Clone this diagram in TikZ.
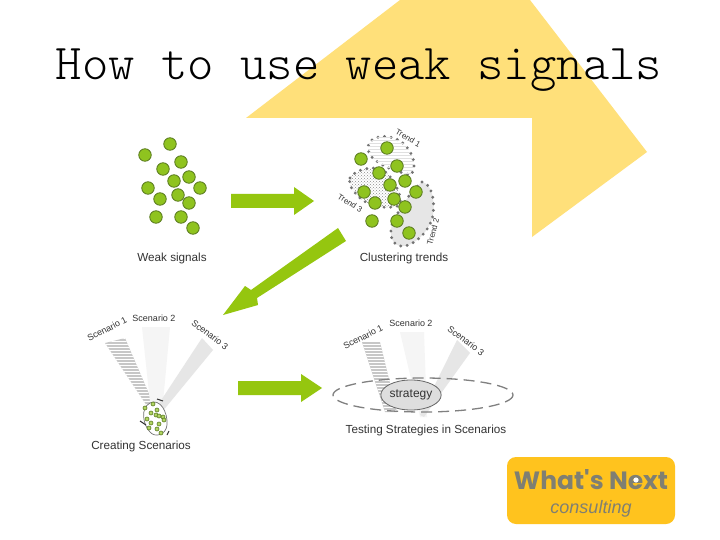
\documentclass[tikz,border=0pt]{standalone}
\usepackage{fontspec}
\setmainfont{Liberation Sans}
\newfontfamily\logofont{Poppins}
\newfontfamily\titlefont{Latin Modern Mono Light}
\usetikzlibrary{patterns,shapes.geometric}
\definecolor{slideyellow}{HTML}{FFE07A}
\definecolor{leaf}{HTML}{8FC31F}
\definecolor{leafdark}{HTML}{5A7A20}
\definecolor{arrowgreen}{HTML}{95C60F}
\definecolor{logoyellow}{HTML}{FFC31E}
\definecolor{logogrey}{HTML}{7F7F72}
\definecolor{bandgrey}{HTML}{E6E6E6}
\tikzset{
  sig/.style={circle,draw=leafdark,line width=0.8pt,fill=leaf,minimum size=12.5pt,inner sep=0pt},
  tiny/.style={circle,draw=leafdark,line width=0.6pt,fill=leaf!70!white,minimum size=4pt,inner sep=0pt},
  lab/.style={font=\fontsize{11.7pt}{13pt}\selectfont,text=black!80,inner sep=0pt},
  small/.style={font=\fontsize{9pt}{10pt}\selectfont,text=black!80,inner sep=0pt},
  mini/.style={font=\fontsize{8pt}{9pt}\selectfont,text=black!80,inner sep=0pt},
  bigarrow/.style={fill=arrowgreen,draw=none},
  dotline/.style={draw=black!55,line width=3.2pt,line cap=round,dash pattern=on 0pt off 6.6pt},
  lightband/.style={fill=black!4},
  greyband/.style={fill=bandgrey}
}
\begin{document}
\begin{tikzpicture}[x=1pt,y=-1pt]
\useasboundingbox (0,0) rectangle (720,540);
\fill[white] (0,0) rectangle (720,540);
\fill[slideyellow] (400,0) -- (530,0) -- (647,152) -- (532,237) -- (532,118) -- (246,118) -- cycle;
\fill[white] (68,118) rectangle (532,465);
\node[inner sep=0pt,anchor=base,font=\titlefont\fontsize{50.2pt}{51pt}\selectfont,text=black] (title) at (359,80) {How to use weak signals};

% weak signals
\foreach \n/\x/\y in {a/170/144,b/145/155,c/181/162,d/163/169,e/189/177,f/174/181,g/148/188,h/200/188,i/178/195,j/160/199,k/189/203,l/156/217,m/181/217,o/193/228}
  \node[sig] (w\n) at (\x,\y) {};
\node[lab] (weak) at (172,258) {Weak signals};

% arrows
\fill[bigarrow] (231,194) -- (294,194) -- (294,187) -- (314,201) -- (294,215) -- (294,208) -- (231,208) -- cycle;
\fill[bigarrow] (238,381) -- (301,381) -- (301,374) -- (322,388) -- (301,402) -- (301,395) -- (238,395) -- cycle;
\fill[bigarrow] (338,228) -- (346,241) -- (257,298) -- (258,305) -- (223,315) -- (245,286) -- (251,290) -- cycle;

% clusters
\def\blobone{(372,140) .. controls (380,134) and (396,136) .. (404,144) .. controls (412,152) and (418,165) .. (411,175) .. controls (398,172) and (385,168) .. (375,160) .. controls (368,155) and (365,146) .. (372,140) -- cycle}
\def\blobthree{(350,178) .. controls (354,170) and (376,163) .. (387,173) .. controls (395,182) and (405,200) .. (398,206) .. controls (385,210) and (365,205) .. (357,195) .. controls (352,190) and (348,184) .. (350,178) -- cycle}
\filldraw[dotline,fill=white] \blobone;
\path[pattern=horizontal lines,pattern color=black!12] \blobone;
\filldraw[dotline,fill=bandgrey] (422,182) .. controls (432,184) and (435,200) .. (433,215)
  .. controls (430,232) and (412,248) .. (400,246) .. controls (390,244) and (388,230) .. (395,218)
  .. controls (402,205) and (412,190) .. (422,182) -- cycle;
\filldraw[dotline,fill=white] \blobthree;
\path[pattern=crosshatch dots,pattern color=black!45] \blobthree;
\foreach \n/\x/\y in {a/387/148,b/361/159,c/397/166,d/379/173,e/405/181,f/390/185,g/364/192,h/416/192,i/394/199,j/375/203,k/405/207,l/372/221,m/397/221,o/409/233}
  \node[sig] (c\n) at (\x,\y) {};
\node[mini,rotate=-30] (t1) at (408,138) {Trend 1};
\node[mini,rotate=-32] (t3) at (350,203) {Trend 3};
\node[mini,rotate=75] (t2) at (433,232) {Trend 2};
\node[lab] (clust) at (404,258) {Clustering trends};

% creating scenarios
\fill[black!22] (105,343) -- (125,338) -- (153,403) -- (147,406) -- cycle;
\path[pattern=horizontal lines,pattern color=white] (105,343) -- (125,338) -- (153,403) -- (147,406) -- cycle;
\fill[lightband] (142,327) -- (170,327) -- (163,402) -- (150,402) -- cycle;
\fill[greyband] (202,338) -- (213,350) -- (162,412) -- (156,408) -- cycle;
\node[small] (s2a) at (154,318) {Scenario 2};
\node[small,rotate=27] (s1a) at (107,329) {Scenario 1};
\node[small,rotate=-37] (s3a) at (210,335) {Scenario 3};
\filldraw[draw=black!55,fill=white,line width=0.7pt] (150,403) .. controls (160,398) and (168,412) .. (167,425) .. controls (166,435) and (155,438) .. (150,432) .. controls (143,425) and (140,408) .. (150,403) -- cycle;
\foreach \n/\x/\y in {a/153/404,b/145/408,c/157/410,d/151/413,e/163/417,f/156/415,g/147/419,h/164/420,i/159/424,j/151/423,k/159/416,l/149/428,m/157/429,o/161/433}
  \node[tiny] (z\n) at (\x,\y) {};
\draw[black!80,line width=1pt] (140,421) -- (146,425) (167,435) -- (169,431) (157,399) -- (163,401);
\node[lab] (creat) at (141,446) {Creating Scenarios};

% testing strategies
\fill[black!22] (362,342) -- (380,342) -- (397,412) -- (385,412) -- cycle;
\path[pattern=horizontal lines,pattern color=white] (362,342) -- (380,342) -- (397,412) -- (385,412) -- cycle;
\fill[lightband] (400,332) -- (424,332) -- (427,417) -- (420,417) -- cycle;
\fill[greyband] (457,340) -- (470,353) -- (424,417) -- (420,415) -- cycle;
\node[small] (s2b) at (411,323) {Scenario 2};
\node[small,rotate=27] (s1b) at (363,337) {Scenario 1};
\node[small,rotate=-37] (s3b) at (466,341) {Scenario 3};
\draw[black!50,line width=1.3pt,dash pattern=on 11pt off 6pt] (423,395) ellipse [x radius=90,y radius=17];
\node[draw=black!60,fill=black!13,ellipse,line width=0.8pt,minimum width=58pt,minimum height=30pt,inner sep=0pt,font=\fontsize{12pt}{13pt}\selectfont,text=black!80] (strat) at (411,395) {strategy};
\node[lab] (test) at (426,430) {Testing Strategies in Scenarios};

% logo
\fill[logoyellow,rounded corners=9pt] (507,457) rectangle (675,524);
\node[inner sep=0pt,font=\logofont\bfseries\fontsize{25pt}{26pt}\selectfont,text=logogrey] (whats) at (591,480) {What's Next};
\fill[white] (636,480) circle (2.6);
\node[inner sep=0pt,font=\itshape\fontsize{18pt}{19pt}\selectfont,text=logogrey] (cons) at (591,509) {consulting};
\end{tikzpicture}
\end{document}
